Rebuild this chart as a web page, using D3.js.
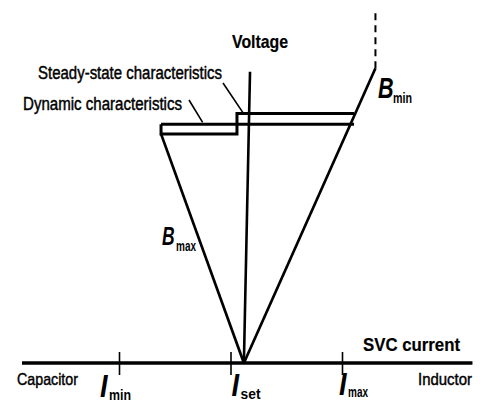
<!DOCTYPE html>
<html>
<head>
<meta charset="utf-8">
<script src="https://cdn.jsdelivr.net/npm/d3@7"></script>
<style>
  html, body { margin: 0; padding: 0; background: #fff; }
  svg { display: block; }
  .narrow { font-family: "Liberation Sans Narrow", "Liberation Sans", Arial, sans-serif; }
  .sym { font-family: "Liberation Sans", Arial, sans-serif; font-weight: bold; font-style: italic; }
</style>
</head>
<body>
<svg id="chart" width="480" height="403"></svg>
<script>
// SVC V-I characteristic (current in p.u. of the control range, voltage in p.u.)

// current ticks on the horizontal axis
const tickSubscripts = ["min", "set", "max"];
const tickCurrents = [-1, 0, 1];

// extent of the SVC current axis
const currentAxisExtent = [-1.87, 2.17];

// voltage axis (drawn through the operating point)
const voltageAxisCurrent = [0.12, 0.175];
const voltageAxisVoltage = [0, 1.22];

// steady-state characteristic (stepped)
const steadyCurrent = [-0.623, -0.623, 0.058, 0.058, 1.108];
const steadyVoltage = [1.0, 0.96, 0.96, 1.045, 1.045];

// dynamic characteristic (flat)
const dynamicCurrent = [-0.623, 1.108];
const dynamicVoltage = [1.0, 1.0];

// B_max branch (capacitive limit)
const bMaxCurrent = [-0.623, 0.12];
const bMaxVoltage = [0.96, 0];

// B_min branch (inductive limit) and its overload continuation
const bMinCurrent = [0.12, 1.30];
const bMinVoltage = [0, 1.235];
const overloadCurrent = [1.30, 1.30];
const overloadVoltage = [1.235, 1.48];

const svg = d3.select("#chart");

const x = d3.scaleLinear().domain([-1, 1]).range([119, 342]);
const y = d3.scaleLinear().domain([0, 1.5]).range([363, 5]);

const line = d3.line().x(d => x(d[0])).y(d => y(d[1]));
const zip = (a, b) => a.map((v, i) => [v, b[i]]);

// horizontal current axis
svg.append("path")
  .datum(zip(currentAxisExtent, [0, 0]))
  .attr("d", line)
  .attr("fill", "none")
  .attr("stroke", "#000")
  .attr("stroke-width", 3.5);

// ticks crossing the current axis
const tickAxis = d3.axisBottom(x)
  .tickValues(tickCurrents)
  .tickSize(23)
  .tickFormat("");
const tg = svg.append("g")
  .attr("transform", `translate(0,${y(0) - 11})`)
  .call(tickAxis);
tg.select(".domain").remove();
tg.selectAll(".tick line").attr("stroke", "#000").attr("stroke-width", 1.6);

// italic symbol with a condensed subscript
const symbol = (main, sub, xx, yy, size, subSize, subDx, subDy, squeeze, subLen) => {
  svg.append("text")
    .attr("class", "sym")
    .attr("transform", `translate(${xx},${yy}) scale(${squeeze},1)`)
    .attr("font-size", size)
    .attr("fill", "#000")
    .text(main);
  svg.append("text")
    .attr("class", "narrow")
    .attr("x", xx + subDx)
    .attr("y", yy + subDy)
    .attr("font-size", subSize)
    .attr("font-weight", "bold")
    .attr("textLength", subLen)
    .attr("lengthAdjust", "spacingAndGlyphs")
    .attr("fill", "#000")
    .text(sub);
};

// tick labels: italic I with subscript
const tickLabelLayout = { min: [-19, 34, 3, 22], set: [1, 33, 3, 20], max: [-3, 32, 2, 20] };
tickSubscripts.forEach((s, i) => {
  const [dx, dy, sdy, slen] = tickLabelLayout[s];
  symbol("I", s, x(tickCurrents[i]) + dx, y(0) + dy, 32, 15, 9, sdy, 0.85, slen);
});

// voltage axis
svg.append("path")
  .datum(zip(voltageAxisCurrent, voltageAxisVoltage))
  .attr("d", line)
  .attr("fill", "none")
  .attr("stroke", "#000")
  .attr("stroke-width", 2.6);

// characteristic lines
const drawLine = (cs, vs, w, dash) => svg.append("path")
  .datum(zip(cs, vs))
  .attr("d", line)
  .attr("fill", "none")
  .attr("stroke", "#000")
  .attr("stroke-width", w)
  .attr("stroke-linejoin", "miter")
  .attr("stroke-dasharray", dash || null);

drawLine(bMaxCurrent, bMaxVoltage, 2.7);
drawLine(bMinCurrent, bMinVoltage, 2.7);
drawLine(overloadCurrent, overloadVoltage, 2, "7,5");
drawLine(steadyCurrent, steadyVoltage, 3);
drawLine(dynamicCurrent, dynamicVoltage, 3);

// plain labels
const label = (txt, xx, yy, size, len, weight) => svg.append("text")
  .attr("class", "narrow")
  .attr("x", xx).attr("y", yy)
  .attr("font-size", size)
  .attr("font-weight", weight || "normal")
  .attr("textLength", len)
  .attr("lengthAdjust", "spacingAndGlyphs")
  .attr("fill", "#000")
  .attr("stroke", "#000")
  .attr("stroke-width", weight ? 0.2 : 0.45)
  .text(txt);

label("Voltage", 232, 48, 19, 56, "bold");
label("Steady-state characteristics", 38, 79, 18, 184);
label("Dynamic characteristics", 23, 110, 18, 159);
label("SVC current", 363, 351, 19, 97, "bold");
label("Capacitor", 17, 385, 17, 61);
label("Inductor", 418, 385, 17, 54);

// pointer lines from the legend labels to the characteristics
const pointer = (x1, y1, cx, vy) => svg.append("line")
  .attr("x1", x1).attr("y1", y1)
  .attr("x2", x(cx)).attr("y2", y(vy))
  .attr("stroke", "#000").attr("stroke-width", 1.6);
pointer(223, 83, 0.11, 1.05);
pointer(189, 100, -0.25, 1.008);

// susceptance labels
symbol("B", "min", 378, 98, 30, 15, 15, 5, 0.72, 19);
symbol("B", "max", 162, 245, 25, 14, 14, 6, 0.7, 20);
</script>
</body>
</html>
